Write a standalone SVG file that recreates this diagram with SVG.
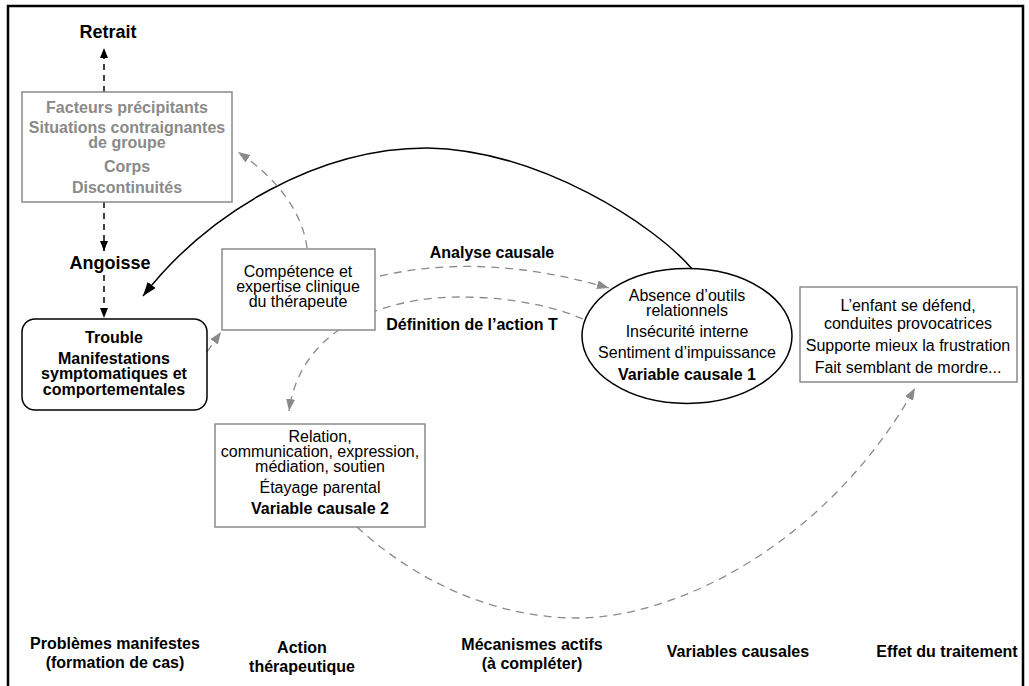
<svg xmlns="http://www.w3.org/2000/svg" width="1029" height="686" viewBox="0 0 1029 686">
<style>
text{font-family:"Liberation Sans",Arial,Helvetica,sans-serif;font-size:16px;fill:#000;text-anchor:middle}
.b{font-weight:bold}
.big{font-weight:bold;font-size:18px}
.g{fill:#8a8a8a;font-weight:bold}
.gbox{fill:#fff;stroke:#8a8a8a;stroke-width:1.5}
.kdash{fill:none;stroke:#000;stroke-width:1.5;stroke-dasharray:6 5}
.gdash{fill:none;stroke:#8a8a8a;stroke-width:1.3;stroke-dasharray:8 6}
.solid{fill:none;stroke:#000;stroke-width:1.5}
</style>
<defs>
<marker id="ak" markerUnits="userSpaceOnUse" markerWidth="11" markerHeight="9" refX="10" refY="4" orient="auto"><path d="M0,0 L10,4 L0,8 z" fill="#000"/></marker>
<marker id="akL" markerUnits="userSpaceOnUse" markerWidth="15" markerHeight="11" refX="14" refY="5" orient="auto"><path d="M0,0 L14,5 L0,10 z" fill="#000"/></marker>
<marker id="ag" markerUnits="userSpaceOnUse" markerWidth="13" markerHeight="10" refX="12" refY="4.5" orient="auto"><path d="M0,0 L12,4.5 L0,9 z" fill="#8a8a8a"/></marker>
</defs>
<rect x="0" y="0" width="1029" height="686" fill="#fff"/>
<rect x="8" y="6" width="1015" height="720" fill="none" stroke="#000" stroke-width="2.5"/>

<g id="connectors">
<path class="kdash" d="M104,92 L104,48" marker-end="url(#ak)"/>
<path class="kdash" d="M104,202 L104,251" marker-end="url(#ak)"/>
<path class="kdash" d="M104,275 L104,318" marker-end="url(#ak)"/>
<path class="solid" d="M693,270 C655,225 540,150 427,148 C320,148 210,210 143,296" marker-end="url(#akL)"/>
<path class="gdash" d="M307,248 C303,215 280,180 238,152" marker-end="url(#ag)"/>
<path class="gdash" d="M207,352 L221,332" marker-end="url(#ag)"/>
<path class="gdash" d="M380,276 Q485,252 609,288" marker-end="url(#ag)"/>
<path class="gdash" d="M583,319 C545,303 500,297 460,297 C380,297 300,330 289,411" marker-end="url(#ag)"/>
<path class="gdash" d="M357,527 C420,585 500,618 577,618 C680,618 830,540 915,388" marker-end="url(#ag)"/>
</g>

<g id="retrait"><text class="big" x="108" y="38">Retrait</text></g>

<g id="facteurs">
<rect class="gbox" x="22" y="92" width="210" height="110"/>
<text class="g" x="127" y="113">Facteurs précipitants</text>
<text class="g" x="127" y="133">Situations contraignantes</text>
<text class="g" x="127" y="148">de groupe</text>
<text class="g" x="127" y="172">Corps</text>
<text class="g" x="127" y="193">Discontinuités</text>
</g>

<g id="angoisse"><text class="big" x="110" y="269">Angoisse</text></g>

<g id="trouble">
<rect x="22" y="319" width="185" height="91" rx="13" ry="13" fill="#fff" stroke="#000" stroke-width="1.5"/>
<text class="b" x="114" y="343">Trouble</text>
<text class="b" x="114" y="364">Manifestations</text>
<text class="b" x="114" y="379">symptomatiques et</text>
<text class="b" x="114" y="395">comportementales</text>
</g>

<g id="competence">
<rect class="gbox" x="222" y="249" width="153" height="81"/>
<text x="298" y="277">Compétence et</text>
<text x="298" y="292">expertise clinique</text>
<text x="298" y="307">du thérapeute</text>
</g>

<g id="label-analyse"><text class="b" x="492" y="258">Analyse causale</text></g>
<g id="label-definition"><text class="b" x="472" y="330">Définition de l’action T</text></g>

<g id="variable1">
<ellipse cx="687" cy="336" rx="105" ry="67.5" fill="#fff" stroke="#000" stroke-width="1.5"/>
<text x="687" y="301">Absence d’outils</text>
<text x="687" y="316">relationnels</text>
<text x="687" y="337">Insécurité interne</text>
<text x="687" y="358">Sentiment d’impuissance</text>
<text class="b" x="687" y="380">Variable causale 1</text>
</g>

<g id="effet">
<rect class="gbox" x="800" y="287" width="217" height="95"/>
<text x="908" y="311">L’enfant se défend,</text>
<text x="908" y="329">conduites provocatrices</text>
<text x="908" y="351">Supporte mieux la frustration</text>
<text x="908" y="373">Fait semblant de mordre...</text>
</g>

<g id="variable2">
<rect class="gbox" x="215" y="424" width="210" height="103"/>
<text x="320" y="442">Relation,</text>
<text x="320" y="457">communication, expression,</text>
<text x="320" y="472">médiation, soutien</text>
<text x="320" y="493">Étayage parental</text>
<text class="b" x="320" y="514">Variable causale 2</text>
</g>

<g id="col-problemes">
<text class="b" x="115" y="649">Problèmes manifestes</text>
<text class="b" x="115" y="668">(formation de cas)</text>
</g>
<g id="col-action">
<text class="b" x="302" y="653">Action</text>
<text class="b" x="302" y="672">thérapeutique</text>
</g>
<g id="col-mecanismes">
<text class="b" x="532" y="650">Mécanismes actifs</text>
<text class="b" x="532" y="669">(à compléter)</text>
</g>
<g id="col-variables"><text class="b" x="738" y="657">Variables causales</text></g>
<g id="col-effet"><text class="b" x="947" y="657">Effet du traitement</text></g>
</svg>
